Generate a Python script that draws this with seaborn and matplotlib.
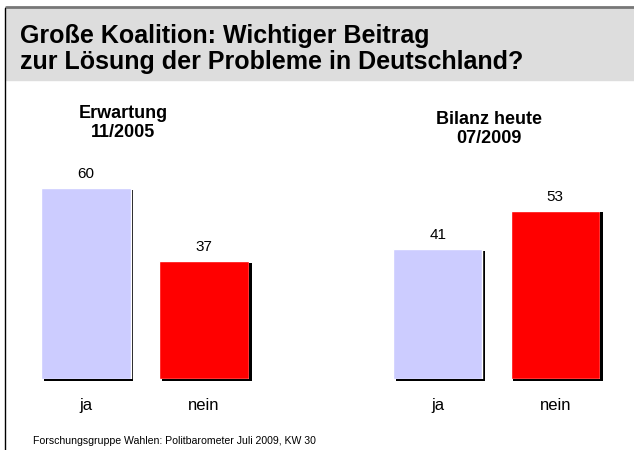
import matplotlib
matplotlib.use('Agg')
import matplotlib.pyplot as plt
from matplotlib.patches import Rectangle
from matplotlib.lines import Line2D
import pandas as pd
import seaborn as sns

# Data
categories = ['ja', 'nein']
erwartung_2005 = [60, 37]
bilanz_2009 = [41, 53]
group_titles = ['Erwartung\n11/2005', 'Bilanz heute\n07/2009']
title_lines = ['Große Koalition: Wichtiger Beitrag',
               'zur Lösung der Probleme in Deutschland?']
source = 'Forschungsgruppe Wahlen: Politbarometer Juli 2009, KW 30'

bar_colors = ['#ccccff', '#ff0000']

sns.set_style('white')
plt.rcParams['font.family'] = ['Liberation Sans', 'DejaVu Sans']
plt.rcParams['text.color'] = 'black'
plt.rcParams['xtick.color'] = 'black'

W, H = 634, 450
fig = plt.figure(figsize=(W / 100, H / 100), dpi=100)


def px_rect(x0, y0, x1, y1):
    """Pixel box (top-left origin) to figure fraction rect."""
    return [x0 / W, 1 - y1 / H, (x1 - x0) / W, (y1 - y0) / H]


# Header box and frame lines
fig.patches.append(Rectangle((6 / W, 1 - 80 / H), 1, 72 / H,
                             transform=fig.transFigure, color='#dddddd', zorder=0))
fig.add_artist(Line2D([6 / W, 1], [1 - 7 / H, 1 - 7 / H], transform=fig.transFigure,
                      color='#777777', lw=2))
fig.add_artist(Line2D([5 / W, 5 / W], [1 - 8 / H, 0], transform=fig.transFigure,
                      color='black', lw=1))
for line, y in zip(title_lines, [36, 62]):
    fig.text(20 / W, 1 - y / H, line, fontsize=18, fontweight='bold',
             ha='left', va='center')


def draw_group(rect, values, group_title, title_x, title_y):
    ax = fig.add_axes(rect)
    df = pd.DataFrame({'Antwort': categories, 'Prozent': values})
    sns.barplot(data=df, x='Antwort', y='Prozent', hue='Antwort',
                palette=bar_colors, width=0.76, legend=False, ax=ax,
                saturation=1)
    # black drop shadow to the right / below each bar
    dx, dy = 0.022, -0.6
    for p in list(ax.patches):
        shadow = Rectangle((p.get_x() + dx, p.get_y() + dy), p.get_width(),
                           p.get_height(), color='black', lw=0,
                           zorder=p.get_zorder() - 0.1, clip_on=False)
        ax.add_patch(shadow)
    for c in ax.containers:
        ax.bar_label(c, padding=5, fontsize=11)
    ax.set_xlim(-0.38, 1.38)
    ax.set_ylim(0, 68.9)
    ax.set_xlabel('')
    ax.set_ylabel('')
    ax.set_yticks([])
    ax.tick_params(axis='x', length=0, pad=14, labelsize=12)
    sns.despine(ax=ax, left=True, bottom=True)
    fig.text(title_x / W, 1 - title_y / H, group_title, ha='center',
             va='center', fontsize=13, fontweight='bold', linespacing=1.2)
    return ax


draw_group(px_rect(41, 160, 249, 379), erwartung_2005, group_titles[0], 123, 123)
draw_group(px_rect(393, 160, 600, 379), bilanz_2009, group_titles[1], 489, 129)

fig.text(33 / W, 1 - 441 / H, source, fontsize=7.6, ha='left', va='center')

fig.savefig('out.png', dpi=100)
